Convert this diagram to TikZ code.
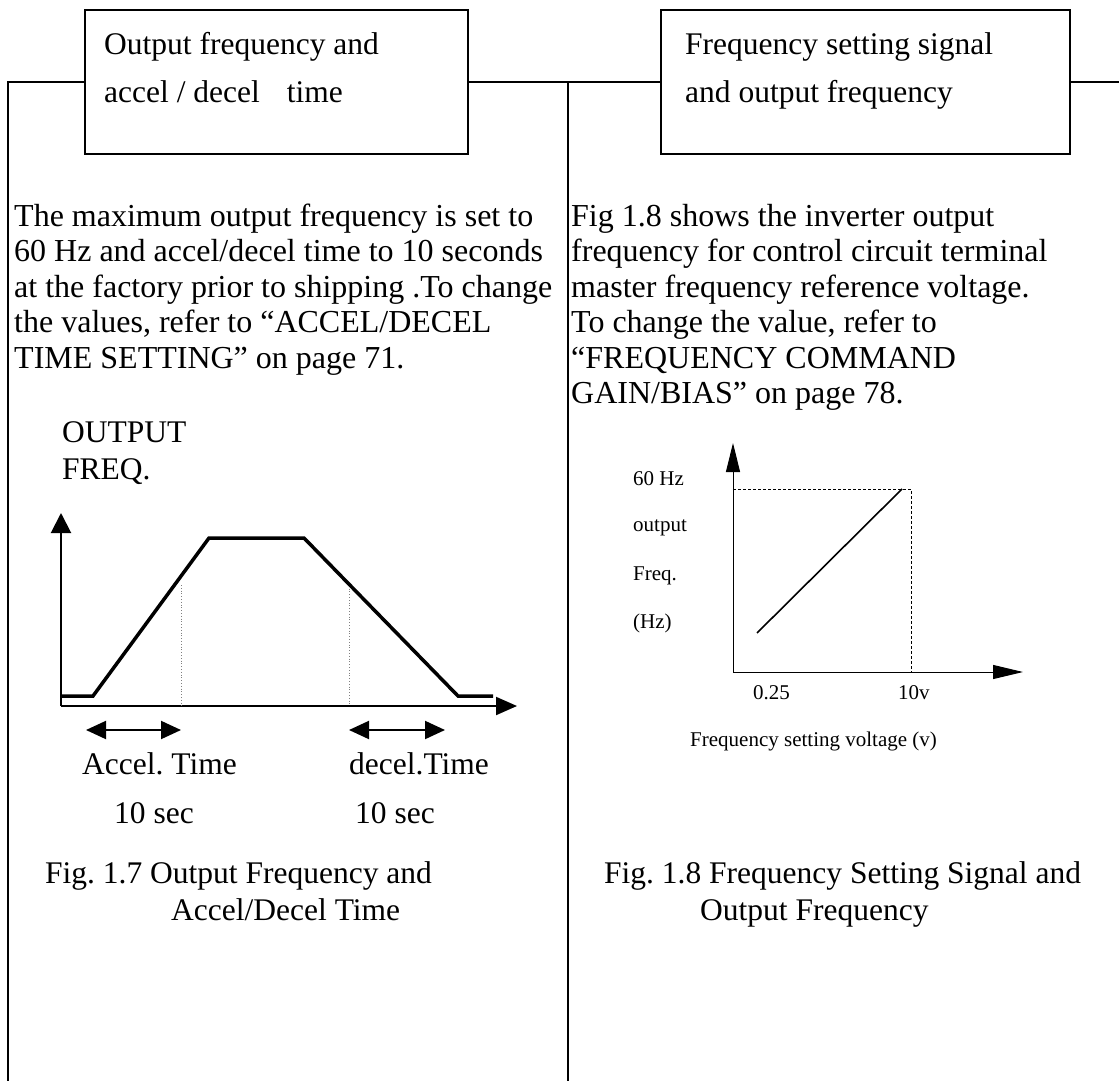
\documentclass[tikz,border=0pt]{standalone}
\usepackage{fontspec}
\setmainfont{Liberation Serif}
\usetikzlibrary{arrows.meta}
\frenchspacing
\begin{document}
\begin{tikzpicture}[x=1pt,y=-1pt,
  frame/.style={line width=2pt},
  titlebox/.style={draw, line width=2pt, minimum height=144pt, inner sep=0pt},
  txt/.style={anchor=base west, inner sep=0pt, font=\fontsize{31.5}{36}\selectfont},
  bodytxt/.style={anchor=base west, inner sep=0pt, font=\fontsize{32}{36}\selectfont},
  smalltxt/.style={anchor=base west, inner sep=0pt, font=\fontsize{21}{24}\selectfont},
  axisline/.style={line width=2pt},
  thinaxis/.style={line width=1pt},
  curve/.style={line width=3.5pt, line join=miter},
  guide/.style={gray, line width=0.8pt, dotted},
  dashguide/.style={line width=0.9pt, dash pattern=on 3pt off 2pt},
  bigtip/.style={-{Triangle[length=20pt,width=20pt]}},
  spantip/.style={{Triangle[length=20pt,width=18pt]}-{Triangle[length=20pt,width=18pt]}},
]
\useasboundingbox (0,0) rectangle (1119,1081);
\fill[white] (0,0) rectangle (1119,1081);

% ---- title boxes and page frame ----
\node[titlebox, minimum width=383pt] (lbox) at (276.5,82) {};
\node[titlebox, minimum width=409pt] (rbox) at (865.5,82) {};
\coordinate (lbot) at (8,1081);
\coordinate (mbot) at (568,1081);
\coordinate (rend) at (1119,82);
\draw[frame] (lbot) -- (lbot |- lbox.west) -- (lbox.west);
\draw[frame] (lbox.east) -- (rbox.west);
\draw[frame] (mbot) -- (mbot |- lbox.east);
\draw[frame] (rbox.east) -- (rend);

\node[txt] (lt1) at (104,55) {Output frequency and};
\node[txt] (lt2) at (104,102) {accel / decel\hspace{27pt}time};
\node[txt] (rt1) at (685,55) {Frequency setting signal};
\node[txt] (rt2) at (685,102) {and output frequency};

% ---- left column text ----
\node[bodytxt] (lp1) at (14,226) {The maximum output frequency is set to};
\node[bodytxt] (lp2) at (14,261.5) {60 Hz and accel/decel time to 10 seconds};
\node[bodytxt] (lp3) at (14,297) {at the factory prior to shipping .To change};
\node[bodytxt] (lp4) at (14,332.5) {the values, refer to “ACCEL/DECEL};
\node[bodytxt] (lp5) at (14,368) {TIME SETTING” on page 71.};

% ---- right column text ----
\node[bodytxt] (rp1) at (571,226) {Fig 1.8 shows the inverter output};
\node[bodytxt] (rp2) at (571,261.5) {frequency for control circuit terminal};
\node[bodytxt] (rp3) at (571,297) {master frequency reference voltage.};
\node[bodytxt] (rp4) at (571,332.5) {To change the value, refer to};
\node[bodytxt] (rp5) at (571,368) {“FREQUENCY COMMAND};
\node[bodytxt] (rp6) at (571,403.5) {GAIN/BIAS” on page 78.};

% ---- accel / decel graph ----
\node[txt] (ylab1) at (62,442) {OUTPUT};
\node[txt] (ylab2) at (62,479) {FREQ.};
\coordinate (o1) at (61,706);
\coordinate (y1) at (61,513);
\coordinate (x1) at (517,706);
\draw[axisline, bigtip] (o1) -- (y1);
\draw[axisline, -{Triangle[length=21pt,width=18pt]}] (o1) -- (x1);
\draw[guide] (181,585) -- (181,706);
\draw[guide] (349,583) -- (349,706);
\draw[curve] (61,696) -- (93,696) -- (209,538) -- (304,538) -- (458,696) -- (493,696);
\coordinate (a1) at (86,730);
\coordinate (a2) at (181,730);
\coordinate (d1) at (349,730);
\coordinate (d2) at (445,730);
\draw[axisline, spantip] (a1) -- (a2);
\draw[axisline, spantip] (d1) -- (d2);
\node[txt] (acc) at (82,774) {Accel. Time};
\node[txt] (dec) at (349,774) {decel.Time};
\node[txt] (acct) at (114,823) {10 sec};
\node[txt] (dect) at (355,823) {10 sec};
\node[txt] (cap1a) at (45,883) {Fig. 1.7 Output Frequency and};
\node[txt] (cap1b) at (171,920) {Accel/Decel Time};

% ---- frequency setting graph ----
\coordinate (o2) at (733,672);
\coordinate (y2) at (733,443);
\coordinate (x2) at (1023,672);
\coordinate (m2) at (911,489);
\draw[thinaxis, -{Triangle[length=29pt,width=14pt]}] (o2) -- (y2);
\draw[thinaxis, -{Triangle[length=30pt,width=14pt]}] (o2) -- (x2);
\draw[dashguide] (o2 |- m2) -- (m2) -- (m2 |- o2);
\draw[line width=1.6pt] (757,633) -- (902,489);
\node[smalltxt] (f1) at (633,485) {60 Hz};
\node[smalltxt] (f2) at (633,531) {output};
\node[smalltxt] (f3) at (633,580) {Freq.};
\node[smalltxt] (f4) at (633,628) {(Hz)};
\node[smalltxt] (v1) at (753,699) {0.25};
\node[smalltxt] (v2) at (898,699) {10v};
\node[smalltxt] (vlab) at (690,746) {Frequency setting voltage (v)};
\node[txt] (cap2a) at (604,883) {Fig. 1.8 Frequency Setting Signal and};
\node[txt] (cap2b) at (700,920) {Output Frequency};
\end{tikzpicture}
\end{document}
